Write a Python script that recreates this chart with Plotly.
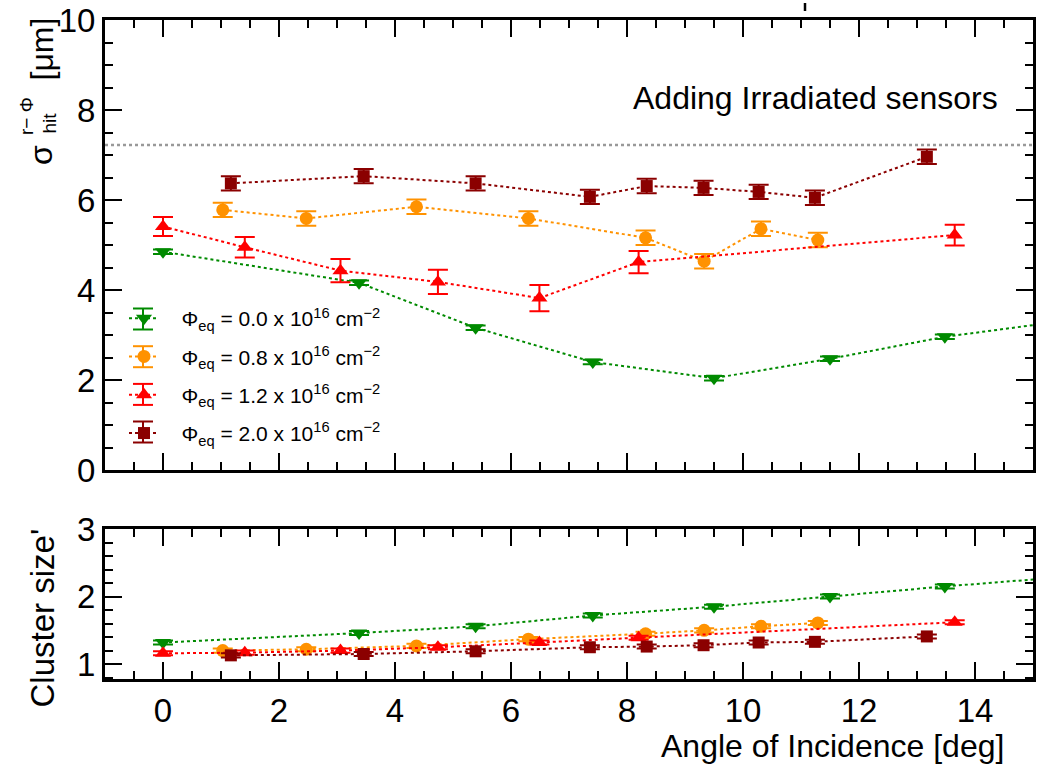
import plotly.graph_objects as go

# ---------------- data ----------------
fluence_labels = [
    "Φ<sub>eq</sub> = 0.0 x 10<sup>16</sup> cm<sup>−2</sup>",
    "Φ<sub>eq</sub> = 0.8 x 10<sup>16</sup> cm<sup>−2</sup>",
    "Φ<sub>eq</sub> = 1.2 x 10<sup>16</sup> cm<sup>−2</sup>",
    "Φ<sub>eq</sub> = 2.0 x 10<sup>16</sup> cm<sup>−2</sup>",
]

# Phi = 0.0 (last point lies beyond the plotted range)
angle_00 = [0.0, 3.38, 5.39, 7.41, 9.50, 11.50, 13.48, 16.0]
res_00 = [4.85, 4.16, 3.16, 2.40, 2.04, 2.47, 2.96, 3.39]
res_00_err = [0.05, 0.05, 0.05, 0.05, 0.05, 0.05, 0.05, 0.05]
cls_00 = [1.32, 1.46, 1.56, 1.72, 1.85, 2.00, 2.15, 2.32]
cls_00_err = [0.03, 0.03, 0.03, 0.03, 0.03, 0.03, 0.03, 0.03]

# Phi = 0.8
angle_08 = [1.03, 2.47, 4.37, 6.30, 8.32, 9.33, 10.31, 11.29]
res_08 = [5.78, 5.59, 5.85, 5.59, 5.16, 4.64, 5.36, 5.11]
res_08_err = [0.16, 0.16, 0.16, 0.16, 0.16, 0.16, 0.16, 0.16]
cls_08 = [1.20, 1.22, 1.27, 1.37, 1.45, 1.50, 1.56, 1.61]
cls_08_err = [0.03, 0.03, 0.03, 0.03, 0.03, 0.03, 0.03, 0.03]

# Phi = 1.2
angle_12 = [0.0, 1.41, 3.06, 4.74, 6.49, 8.20, 13.65]
res_12 = [5.41, 4.95, 4.43, 4.18, 3.82, 4.62, 5.22]
res_12_err = [0.21, 0.23, 0.26, 0.27, 0.29, 0.245, 0.23]
cls_12 = [1.16, 1.17, 1.20, 1.25, 1.32, 1.39, 1.62]
cls_12_err = [0.03, 0.03, 0.03, 0.03, 0.03, 0.03, 0.03]

# Phi = 2.0
angle_20 = [1.17, 3.46, 5.39, 7.36, 8.34, 9.32, 10.27, 11.24, 13.17]
res_20 = [6.37, 6.53, 6.37, 6.07, 6.31, 6.27, 6.18, 6.05, 6.96]
res_20_err = [0.16, 0.16, 0.16, 0.16, 0.16, 0.16, 0.16, 0.16, 0.16]
cls_20 = [1.13, 1.15, 1.19, 1.25, 1.26, 1.28, 1.32, 1.33, 1.41]
cls_20_err = [0.03, 0.03, 0.03, 0.03, 0.03, 0.03, 0.03, 0.03, 0.03]

pitch_limit = 7.22  # dotted reference line

colors = ["#008a00", "#ff9200", "#ff0000", "#8b0000"]
symbols = ["triangle-down", "circle", "triangle-up", "square"]
sizes = [14, 13, 14, 12]

x_ticks = [0, 2, 4, 6, 8, 10, 12, 14]
res_ticks = [0, 2, 4, 6, 8, 10]
cls_ticks = [1, 2, 3]

series = [
    (angle_00, res_00, res_00_err, cls_00, cls_00_err),
    (angle_08, res_08, res_08_err, cls_08, cls_08_err),
    (angle_12, res_12, res_12_err, cls_12, cls_12_err),
    (angle_20, res_20, res_20_err, cls_20, cls_20_err),
]

W, H = 1041, 766
L, R, T, B = 105, 8, 20, 87
PW, PH = W - L - R, H - T - B
FONT = "Liberation Sans, Arial, Helvetica, sans-serif"


def px(x):
    return (x - L) / PW


def py(y):
    return 1 - (y - T) / PH


fig = go.Figure()

NBSP = "\u00a0\u00a0\u00a0"
for i, (ang, res, rerr, cls, cerr) in enumerate(series):
    c = colors[i]
    fig.add_trace(go.Scatter(
        x=ang, y=res, mode="lines+markers", name=NBSP + fluence_labels[i],
        legendgroup="g%d" % i,
        line=dict(color=c, width=2, dash="dot"),
        marker=dict(symbol=symbols[i], size=sizes[i], color=c),
        error_y=dict(type="data", array=rerr, color=c, thickness=2, width=10),
        xaxis="x", yaxis="y", showlegend=True,
    ))
    fig.add_trace(go.Scatter(
        x=ang, y=cls, mode="lines+markers", name=fluence_labels[i],
        legendgroup="g%d" % i,
        line=dict(color=c, width=2, dash="dot"),
        marker=dict(symbol=symbols[i], size=sizes[i], color=c),
        error_y=dict(type="data", array=cerr, color=c, thickness=2, width=10),
        xaxis="x2", yaxis="y2", showlegend=False,
    ))

top_dom = [1 - (470 - T) / PH, 1]
bot_dom = [0, 1 - (529 - T) / PH]

axis_common = dict(
    showline=True, linecolor="black", linewidth=3, mirror="allticks",
    ticks="inside", ticklen=17, tickwidth=1.5, tickcolor="black",
    showgrid=False, zeroline=False, automargin=False,
    tickfont=dict(family=FONT, size=33, color="black"),
)
minor_x = dict(dtick=0.5, ticklen=8, ticks="inside", tickcolor="black", tickwidth=1.5)

fig.update_layout(
    width=W, height=H,
    margin=dict(l=L, r=R, t=T, b=B, autoexpand=False),
    paper_bgcolor="white", plot_bgcolor="white",
    font=dict(family=FONT, color="black"),
    xaxis=dict(domain=[0, 1], anchor="y", range=[-1, 15], tickvals=x_ticks,
               showticklabels=False, minor=minor_x, **axis_common),
    yaxis=dict(domain=top_dom, anchor="x", range=[0, 10], tickvals=res_ticks,
               minor=minor_x, **axis_common),
    xaxis2=dict(domain=[0, 1], anchor="y2", range=[-1, 15], tickvals=x_ticks,
                minor=minor_x, **axis_common),
    yaxis2=dict(domain=bot_dom, anchor="x2", range=[0.78, 3], tickvals=cls_ticks,
                minor=dict(dtick=0.2, ticklen=8, ticks="inside", tickcolor="black", tickwidth=1.5),
                **axis_common),
    legend=dict(x=px(124), y=py(298), xanchor="left", yanchor="top",
                bgcolor="rgba(0,0,0,0)", borderwidth=0, tracegroupgap=8,
                font=dict(family=FONT, size=21, color="black")),
    showlegend=True,
)

# error-bar glyphs inside the legend icons (legend decoration)
legend_row_y = [319, 356.7, 394.4, 432]
for i, c in enumerate(colors):
    yc = legend_row_y[i]
    fig.add_shape(type="line", xref="paper", yref="paper",
                  x0=px(143), x1=px(143), y0=py(yc - 10.5), y1=py(yc + 10.5),
                  line=dict(color=c, width=2))
    for dy in (-10.5, 10.5):
        fig.add_shape(type="line", xref="paper", yref="paper",
                      x0=px(133), x1=px(153), y0=py(yc + dy), y1=py(yc + dy),
                      line=dict(color=c, width=2))

# dotted reference line
fig.add_shape(type="line", xref="x domain", yref="y", x0=0, x1=1,
              y0=pitch_limit, y1=pitch_limit,
              line=dict(color="#999999", width=2.5, dash="dot"), layer="below")

# small stray tick above the frame
fig.add_shape(type="line", xref="paper", yref="paper",
              x0=px(805), x1=px(805), y0=py(3), y1=py(11),
              line=dict(color="black", width=2.5))

fig.add_annotation(text="Adding Irradiated sensors", xref="paper", yref="paper",
                   x=px(1000), y=py(98), xanchor="right", yanchor="middle",
                   showarrow=False, font=dict(family=FONT, size=32, color="black"))


def vtext(text, x, y, yanchor, size):
    fig.add_annotation(text=text, xref="paper", yref="paper",
                       x=px(x), y=py(y), xanchor="center", yanchor=yanchor,
                       textangle=-90, showarrow=False,
                       font=dict(family=FONT, size=size, color="black"))


# y title of the upper panel: sigma with stacked sub/superscript, then [μm]
vtext("[μm]", 41, 16, "top", 32)
vtext("σ", 41, 167, "bottom", 32)
vtext("r− Φ", 26, 137, "bottom", 19)
vtext("hit", 49, 136, "bottom", 19)

vtext("Cluster size'", 42, 527, "top", 33)

fig.add_annotation(text="Angle of Incidence [deg]", xref="paper", yref="paper",
                   x=px(1006), y=py(746), xanchor="right", yanchor="middle",
                   showarrow=False, font=dict(family=FONT, size=32, color="black"))

fig.write_html("out.html", config={"displayModeBar": False},
               post_script="document.body.style.margin='0px';")
